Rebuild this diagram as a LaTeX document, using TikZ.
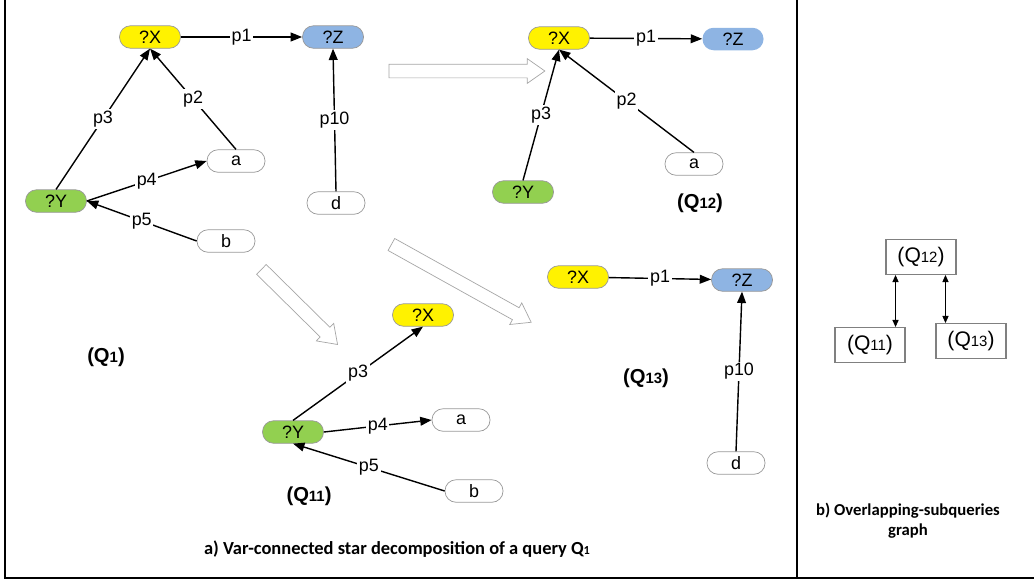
\documentclass[tikz,border=0pt]{standalone}
\usepackage{fontspec}
\setmainfont{Liberation Sans}
\newfontfamily\capfont{Carlito}
\usetikzlibrary{arrows.meta,positioning,shapes}
\definecolor{vgreen}{HTML}{92D050}
\definecolor{vblue}{HTML}{8EB4E3}
\newcommand{\sub}[1]{{\fontsize{8.5}{9}\selectfont #1}}

\begin{document}
\begin{tikzpicture}[x=0.02cm,y=-0.02cm,
  font=\fontsize{10.2}{12}\selectfont,
  var/.style={draw=gray!80,rounded corners=0.22cm,minimum width=1.22cm,minimum height=0.45cm,inner sep=0pt},
  cte/.style={var,fill=white,minimum width=1.16cm},
  vx/.style={var,fill=yellow},
  vy/.style={var,fill=vgreen},
  vz/.style={var,fill=vblue},
  rel/.style={-{Triangle[length=6.5pt,width=5pt]},line width=0.8pt},
  lbl/.style={fill=white,inner sep=1pt},
  qname/.style={font=\fontsize{11.5}{13}\selectfont\bfseries},
  flecha/.style={single arrow,draw=gray!70,fill=white,single arrow tip angle=70,single arrow head extend=0.11cm,inner xsep=0pt,inner ysep=0.13cm,minimum width=0.48cm},
  caja/.style={draw=gray,line width=0.6pt,minimum width=1.4cm,minimum height=0.7cm,font=\fontsize{12}{14}\selectfont},
  dbl/.style={{Triangle[length=4pt,width=3.5pt]}-{Triangle[length=4pt,width=3.5pt]},line width=0.5pt}
  ]

  \useasboundingbox (0,0) rectangle (1034,582);

  % frame
  \draw[line width=1pt] (5,0) -- (5,578) -- (1034,578);
  \draw[line width=1pt] (797,0) -- (797,578);

  % Q1
  \node[vx] (x1) at (150,37) {?X};
  \node[vz] (z1) at (333,37) {?Z};
  \node[vy] (y1) at (56,201) {?Y};
  \node[cte] (a1) at (236,161) {a};
  \node[cte] (b1) at (226,241) {b};
  \node[cte] (d1) at (336,203) {d};
  \draw[rel] (x1) -- node[lbl] {p1} (z1);
  \draw[rel] (y1.north) -- node[lbl] {p3} (x1.south);
  \draw[rel] (a1.north) -- node[lbl] {p2} (x1.south);
  \draw[rel] (y1.east) -- node[lbl] {p4} (a1.west);
  \draw[rel] (b1.west) -- node[lbl] {p5} (y1.east);
  \draw[rel] (d1.north) -- node[lbl] {p10} (z1.south);
  \node[qname] at (106,357) {(Q\sub{1})};

  % Q12
  \node[vx] (x2) at (559,38) {?X};
  \node[vz,draw=none] (z2) at (733,39) {?Z};
  \node[vy] (y2) at (523,192) {?Y};
  \node[cte] (a2) at (694,164) {a};
  \draw[rel] (x2) -- node[lbl] {p1} (z2);
  \draw[rel] (y2.north) -- node[lbl] {p3} (x2.south);
  \draw[rel] (a2.north) -- node[lbl] {p2} (x2.south);
  \node[qname] at (700,203) {(Q\sub{12})};

  % Q11
  \node[vx] (x3) at (423,315) {?X};
  \node[vy] (y3) at (293,432) {?Y};
  \node[cte] (a3) at (461,420) {a};
  \node[cte] (b3) at (474,491) {b};
  \draw[rel] (y3.north) -- node[lbl] {p3} (x3.south);
  \draw[rel] (y3.east) -- node[lbl] {p4} (a3.west);
  \draw[rel] (b3.west) -- node[lbl] {p5} (y3.south);
  \node[qname] at (309,496) {(Q\sub{11})};

  % Q13
  \node[vx] (x4) at (578,277) {?X};
  \node[vz] (z4) at (742,280) {?Z};
  \node[cte] (d4) at (736,463) {d};
  \draw[rel] (x4) -- node[lbl] {p1} (z4);
  \draw[rel] (d4.north) -- node[lbl] {p10} (z4.south);
  \node[qname] at (646,378) {(Q\sub{13})};

  % decomposition arrows
  \node[flecha,minimum height=3.12cm] at (462,71) {};
  \node[flecha,minimum height=2.14cm,rotate=-44.6] at (296,303.5) {};
  \node[flecha,minimum height=3.2cm,rotate=-29.1] at (457,281) {};

  \node[font=\capfont\fontsize{10.5}{12}\selectfont\bfseries] at (397,549)
    {a) Var-connected star decomposition of a query Q{\scriptsize 1}};

  % overlapping graph
  \node[caja] (q12) at (921,257) {(Q\sub{12})};
  \node[caja] (q11) at (870,345) {(Q\sub{11})};
  \node[caja] (q13) at (971,341) {(Q\sub{13})};
  \draw[dbl] ([xshift=-0.2cm]q11.north east) -- ([xshift=-0.2cm]q11.north east |- q12.south);
  \draw[dbl] ([xshift=0.2cm]q13.north west) -- ([xshift=0.2cm]q13.north west |- q12.south);

  \node[font=\capfont\fontsize{9.5}{11.5}\selectfont\bfseries,align=center] at (908,521)
    {b) Overlapping-subqueries\\graph};

\end{tikzpicture}
\end{document}
